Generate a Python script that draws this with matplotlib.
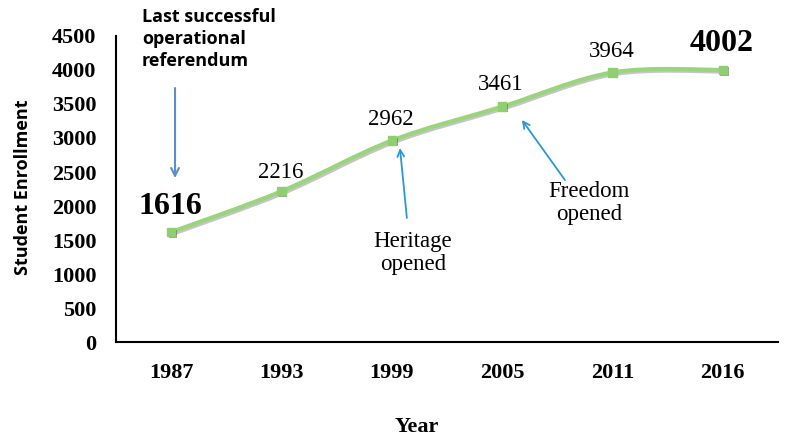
import matplotlib
matplotlib.use('Agg')
import matplotlib.pyplot as plt
import matplotlib.patheffects as pe
from matplotlib.path import Path
from matplotlib.patches import PathPatch
import numpy as np

years = ['1987', '1993', '1999', '2005', '2011', '2016']
enrollment = [1616, 2216, 2962, 3461, 3964, 4002]
y_ticks = [0, 500, 1000, 1500, 2000, 2500, 3000, 3500, 4000, 4500]

SERIF = 'Liberation Serif'
SANS = 'Open Sans'
LINE_GREEN = '#9ad47c'

fig = plt.figure(figsize=(7.86, 4.40), dpi=100)
ax = fig.add_axes([0.1476, 0.2227, 0.842, 0.6955])

x = np.arange(len(years))
y = np.asarray(enrollment, dtype=float)

# Excel-style smoothed line: Catmull-Rom segments expressed as cubic Beziers
pts = np.column_stack([x, y])
ext = np.vstack([pts[0], pts, pts[-1]])
verts = [tuple(pts[0])]
codes = [Path.MOVETO]
for i in range(len(pts) - 1):
    p0, p1, p2, p3 = ext[i], ext[i + 1], ext[i + 2], ext[i + 3]
    c1 = p1 + (p2 - p0) / 6.0
    c2 = p2 - (p3 - p1) / 6.0
    verts += [tuple(c1), tuple(c2), tuple(p2)]
    codes += [Path.CURVE4] * 3
shadow = [pe.SimpleLineShadow(offset=(1.2, -1.2), shadow_color='gray', alpha=0.45),
          pe.Normal()]
patch = PathPatch(Path(verts, codes), facecolor='none', edgecolor=LINE_GREEN,
                  linewidth=3, zorder=3, path_effects=shadow)
ax.add_patch(patch)
ax.plot(x, y, linestyle='none', marker='s', markersize=6, color='#8fcf6f',
        zorder=4, path_effects=[pe.SimplePatchShadow(offset=(1.2, -1.2), alpha=0.45),
                                pe.Normal()])

ax.set_xlim(-0.5, len(years) - 0.5)
ax.set_ylim(0, 4500)
ax.set_xticks(x)
ax.set_xticklabels(years)
ax.set_yticks(y_ticks)
for lbl in ax.get_xticklabels() + ax.get_yticklabels():
    lbl.set_fontfamily(SERIF)
    lbl.set_fontweight('bold')
    lbl.set_fontsize(16)
ax.tick_params(axis='both', length=0)
ax.tick_params(axis='y', pad=14)
ax.tick_params(axis='x', pad=15)
for side in ('top', 'right'):
    ax.spines[side].set_visible(False)
for side in ('left', 'bottom'):
    ax.spines[side].set_linewidth(1.5)
    ax.spines[side].set_color('black')

ax.set_xlabel('Year', fontfamily=SERIF, fontweight='bold', fontsize=16)
ax.xaxis.set_label_coords(0.455, -0.245)
ax.set_ylabel('Student Enrollment', fontfamily=SANS, fontweight='bold', fontsize=13)
ax.yaxis.set_label_coords(-0.127, 0.505)

# data labels (offsets in pixels above each point)
big = dict(fontfamily=SERIF, fontweight='bold', fontsize=23)
small = dict(fontfamily=SERIF, fontsize=16.5)
label_offsets = [26, 19, 21, 22, 21, 26]
for i in range(len(years)):
    style = big if i in (0, len(years) - 1) else small
    ax.annotate(f'{enrollment[i]}', (x[i], y[i]), xytext=(-1, label_offsets[i]),
                textcoords='offset pixels', ha='center', va='center', **style)

# callouts
ax.annotate('', xy=(0.035, 2410), xytext=(0.035, 3735),
            arrowprops=dict(arrowstyle='->', color='#5b8fc9', lw=1.5,
                            shrinkA=0, shrinkB=0, mutation_scale=14))
fig.text(142 / 786, 1 - 8 / 440, 'Last successful\noperational\nreferendum',
         fontfamily=SANS, fontweight='bold', fontsize=13, ha='left', va='top',
         linespacing=1.3)

ax.annotate('', xy=(2.074, 2853), xytext=(2.137, 1824),
            arrowprops=dict(arrowstyle='->', color='#2a97d6', lw=1.3,
                            shrinkA=0, shrinkB=0, mutation_scale=12))
ax.text(2.19, 1310, 'Heritage\nopened', ha='center', va='center', fontfamily=SERIF,
        fontsize=16.5, linespacing=1.1)
ax.annotate('', xy=(3.18, 3265), xytext=(3.57, 2382),
            arrowprops=dict(arrowstyle='->', color='#2a97d6', lw=1.3,
                            shrinkA=0, shrinkB=0, mutation_scale=12))
ax.text(3.787, 2040, 'Freedom\nopened', ha='center', va='center', fontfamily=SERIF,
        fontsize=16.5, linespacing=1.1)

fig.savefig('out.png', dpi=100)
